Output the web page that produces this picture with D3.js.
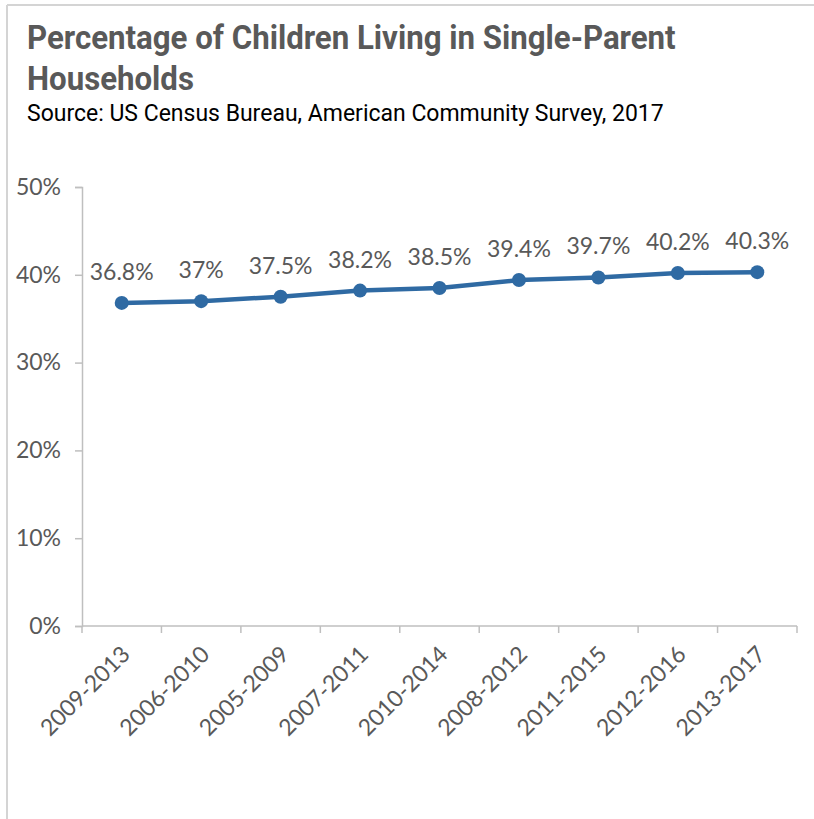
<!DOCTYPE html>
<html>
<head>
<meta charset="utf-8">
<script src="https://cdn.jsdelivr.net/npm/d3@7"></script>
<style>
  html, body { margin: 0; padding: 0; background: #fff; }
  svg { display: block; }
</style>
</head>
<body>
<svg id="chart" width="814" height="819"></svg>
<script>
// Survey periods (ACS 5-year estimates) and share of children in single-parent households
const periods = ["2009-2013", "2006-2010", "2005-2009", "2007-2011", "2010-2014",
                 "2008-2012", "2011-2015", "2012-2016", "2013-2017"];
const shares = [36.8, 37, 37.5, 38.2, 38.5, 39.4, 39.7, 40.2, 40.3];
const yTicks = [0, 10, 20, 30, 40, 50];
const titleLines = ["Percentage of Children Living in Single-Parent", "Households"];
const subtitle = "Source: US Census Bureau, American Community Survey, 2017";

const svg = d3.select("#chart");
const W = 814, H = 819;
const margin = { left: 82, right: 17, top: 187, bottom: 193 };

const lineColor = "#2f6aa3";
const textGray = "#595959";
const axisGray = "#bfbfbf";

// outer frame (top and left edges only)
svg.append("line").attr("x1", 7).attr("x2", W).attr("y1", 5).attr("y2", 5)
  .attr("stroke", "#d4d4d4").attr("stroke-width", 2);
svg.append("line").attr("x1", 7).attr("x2", 7).attr("y1", 5).attr("y2", H)
  .attr("stroke", "#d4d4d4").attr("stroke-width", 2);

// condensed text: keep the font size, squeeze horizontally to a target width
function condensed(x0, y0, str, opts, target) {
  const g = svg.append("g").attr("transform", `translate(${x0},${y0})`);
  const t = g.append("text").attr("x", 0).attr("y", 0)
    .attr("font-family", opts.family).attr("font-weight", opts.weight || "normal")
    .attr("font-size", opts.size).attr("fill", opts.fill).text(str);
  const w = t.node().getComputedTextLength();
  const k = target / w;
  g.attr("transform", `translate(${x0},${y0}) scale(${k.toFixed(4)},1)`);
  return k;
}

// title (two lines share the same horizontal squeeze)
const titleOpts = { family: "Roboto, Arial, sans-serif", weight: "bold", size: 34, fill: textGray };
const k = condensed(27, 49, titleLines[0], titleOpts, 649);
svg.append("g").attr("transform", `translate(27,90) scale(${k.toFixed(4)},1)`)
  .append("text").attr("font-family", titleOpts.family).attr("font-weight", "bold")
  .attr("font-size", titleOpts.size).attr("fill", textGray).text(titleLines[1]);

condensed(27, 121, subtitle, { family: "Roboto, Arial, sans-serif", size: 23, fill: "#000" }, 637);

// scales
const x = d3.scaleBand().domain(periods)
  .range([margin.left, W - margin.right]).padding(0);
const y = d3.scaleLinear().domain([0, 50]).range([H - margin.bottom, margin.top]);

const fontAxis = "Lato, 'Open Sans', sans-serif";
const fsAxis = 23;

// y axis
const yAxis = svg.append("g").attr("transform", `translate(${margin.left},0)`)
  .call(d3.axisLeft(y).tickValues(yTicks).tickFormat(d => d + "%").tickSize(7).tickPadding(14));
yAxis.select(".domain").attr("stroke", axisGray).attr("stroke-width", 1.5);
yAxis.selectAll(".tick line").attr("stroke", axisGray).attr("stroke-width", 1.5);
yAxis.selectAll(".tick text").attr("fill", textGray)
  .attr("font-family", fontAxis).attr("font-size", fsAxis);

// x axis: ticks at category boundaries
const xAxisG = svg.append("g").attr("transform", `translate(0,${y(0)})`);
xAxisG.append("line").attr("x1", margin.left).attr("x2", W - margin.right)
  .attr("y1", 0).attr("y2", 0).attr("stroke", axisGray).attr("stroke-width", 1.5);
const bounds = periods.map(p => x(p)).concat([x(periods[periods.length - 1]) + x.bandwidth()]);
xAxisG.selectAll("line.tk").data(bounds).join("line").attr("class", "tk")
  .attr("x1", d => d).attr("x2", d => d).attr("y1", 0).attr("y2", 7)
  .attr("stroke", axisGray).attr("stroke-width", 1.5);
xAxisG.selectAll("text").data(periods).join("text")
  .attr("transform", d => `translate(${x(d) + x.bandwidth() / 2 + 4},${24}) rotate(-45)`)
  .attr("text-anchor", "end").attr("dy", "0.35em")
  .attr("fill", textGray).attr("font-family", fontAxis).attr("font-size", fsAxis)
  .text(d => d);

// line series
const cx = d => x(d) + x.bandwidth() / 2;
const line = d3.line().x((d, i) => cx(periods[i])).y(d => y(d));
svg.append("path").datum(shares).attr("d", line)
  .attr("fill", "none").attr("stroke", lineColor).attr("stroke-width", 4.5)
  .attr("stroke-linejoin", "round");
svg.selectAll("circle.pt").data(shares).join("circle").attr("class", "pt")
  .attr("cx", (d, i) => cx(periods[i])).attr("cy", d => y(d)).attr("r", 7)
  .attr("fill", lineColor);

// value labels
svg.selectAll("text.val").data(shares).join("text").attr("class", "val")
  .attr("x", (d, i) => cx(periods[i])).attr("y", d => y(d) - 23)
  .attr("text-anchor", "middle").attr("fill", textGray)
  .attr("font-family", fontAxis).attr("font-size", fsAxis)
  .text(d => d + "%");
</script>
</body>
</html>
